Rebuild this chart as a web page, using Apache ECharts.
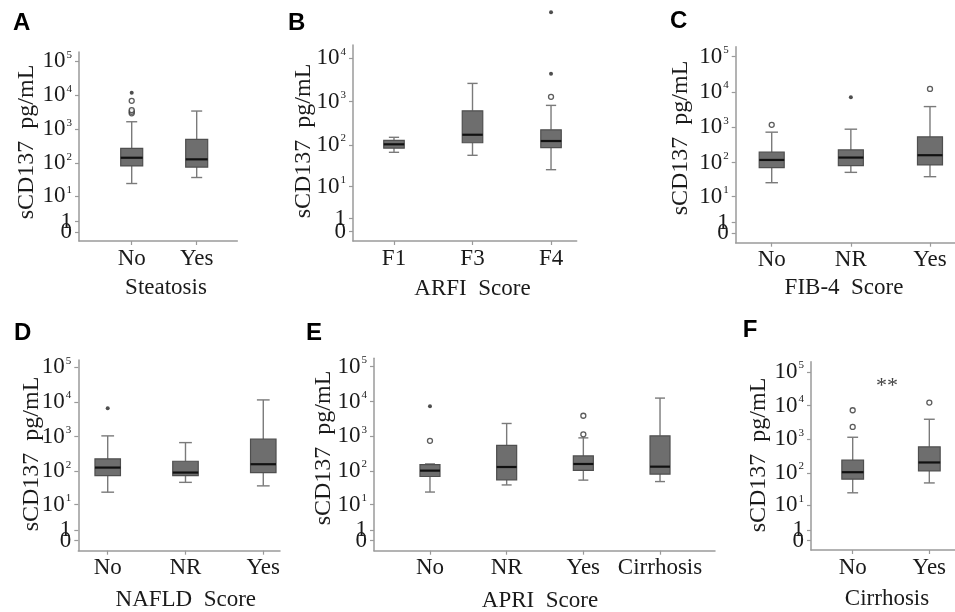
<!DOCTYPE html>
<html><head><meta charset="utf-8">
<script src="https://cdn.jsdelivr.net/npm/echarts@6/dist/echarts.min.js"></script>
<style>html,body{margin:0;padding:0;background:#fff}#c{width:955px;height:612px}</style>
</head><body><div id="c"></div>
<script>
// ---------- data (values in pg/mL); box = [min, Q1, median, Q3, max] ----------
const ticksFull = [0, 1, 10, 100, 1000, 10000, 100000];
const ticksB = [0, 1, 10, 100, 1000, 10000];

const catsA = ['No', 'Yes'];
const boxA = [[25, 84, 147, 278, 1680], [38, 78, 132, 512, 3460]];
const outA = [[0, 2960], [0, 3300], [0, 3700], [0, 6900]];
const extA = [[0, 11900]];

const catsB = ['F1', 'F3', 'F4'];
const boxB = [[67, 84, 103, 127, 150], [57, 112, 172, 617, 2650], [26, 86, 123, 224, 823]];
const outB = [[2, 1300]];
const extB = [[2, 4410], [2, 117000]];

const catsC = ['No', 'NR', 'Yes'];
const boxC = [[26, 71, 118, 196, 726], [52, 81, 138, 228, 882], [39, 85, 161, 534, 3850]];
const outC = [[0, 1170], [2, 12200]];
const extC = [[1, 7120]];

const catsD = ['No', 'NR', 'Yes'];
const boxD = [[24, 74, 127, 227, 1050], [47, 74, 91, 194, 671], [37, 91, 159, 841, 11450]];
const outD = [];
const extD = [[0, 6600]];

const catsE = ['No', 'NR', 'Yes', 'Cirrhosis'];
const boxE = [[24, 69, 102, 152, 160], [39, 55, 130, 550, 2330], [54, 104, 159, 271, 899], [49, 81, 133, 1027, 12500]];
const outE = [[0, 737], [2, 1140], [2, 3880]];
const extE = [[0, 7340]];

const catsF = ['No', 'Yes'];
const boxF = [[25, 65, 105, 240, 1150], [50, 115, 205, 595, 3930]];
const outF = [[0, 2330], [0, 7260], [1, 12270]];
const extF = [];

const yTitle = 'sCD137  pg/mL';

// ---------- layout ----------
const panels = [
  {L:'A', cats:catsA, box:boxA, out:outA, ext:extA, ticks:ticksFull, xName:'Steatosis',
   g:[79,52,158.3,189], x:[-0.811,1.625], y:[-0.27,5.27], bw:22,
   letter:[13,23.5], yName:[27,142], xN:[166,288]},
  {L:'B', cats:catsB, box:boxB, out:outB, ext:extB, ticks:ticksB, xName:'ARFI  Score',
   g:[353,45,223.7,196], x:[-0.522,2.327], y:[-0.215,4.31], bw:20.5,
   letter:[288,23.5], yName:[304,141], xN:[472.5,288.5]},
  {L:'C', cats:catsC, box:boxC, out:outC, ext:extC, ticks:ticksFull, xName:'FIB-4  Score',
   g:[735.7,46.7,219.3,196], x:[-0.455,2.316], y:[-0.266,5.28], bw:25,
   letter:[670,21.7], yName:[681,138], xN:[844,288]},
  {L:'D', cats:catsD, box:boxD, out:outD, ext:extD, ticks:ticksFull, xName:'NAFLD  Score',
   g:[78.3,360,201.7,190.7], x:[-0.378,2.215], y:[-0.29,5.21], bw:25.5,
   letter:[14,333], yName:[32,454], xN:[185.8,600]},
  {L:'E', cats:catsE, box:boxE, out:outE, ext:extE, ticks:ticksFull, xName:'APRI  Score',
   g:[374,358.3,341,192.4], x:[-0.73,3.717], y:[-0.287,5.24], bw:20,
   letter:[306,333], yName:[324,448], xN:[540,600.5]},
  {L:'F', cats:catsF, box:boxF, out:outF, ext:extF, ticks:ticksFull, xName:'Cirrhosis',
   g:[811,361.7,144,188.3], x:[-0.544,1.335], y:[-0.28,5.3], bw:21.7,
   letter:[742.7,330], yName:[759,455], xN:[887,599]}
];

const tf = v => Math.log10(v + 1);   // pseudo-log scale used by the figure
const SERIF = 'Liberation Serif';
const AX = '#9a9a9a';

const option = {
  animation: false,
  backgroundColor: '#fff',
  grid: [], xAxis: [], yAxis: [], series: [], graphic: []
};

function tickText(t) {
  if (t < 10) return '{n|' + t + '}';
  return '{n|10}{s|' + Math.round(Math.log10(t)) + '}';
}
function yAxisDef(i, p, tickList, showLine) {
  const vals = tickList.map(tf);
  return {
    type:'value', gridIndex:i, min:p.y[0], max:p.y[1], position:'left',
    axisLine:{show:showLine, onZero:false, lineStyle:{color:AX, width:1.5}},
    axisTick:{show:true, customValues:vals, length:4, lineStyle:{color:AX, width:1.2}},
    axisLabel:{customValues:vals, margin:7, color:'#1a1a1a', hideOverlap:false,
      showMinLabel:true, showMaxLabel:true,
      formatter: v => {
        let k = 0, best = 1e9;
        vals.forEach((yv, j) => { if (Math.abs(yv - v) < best) { best = Math.abs(yv - v); k = j; } });
        return tickText(tickList[k]);
      },
      rich:{
        n:{fontFamily:SERIF, fontSize:23, color:'#1a1a1a', lineHeight:24},
        s:{fontFamily:SERIF, fontSize:11, color:'#1a1a1a', verticalAlign:'top', lineHeight:12, padding:[0,0,0,1]}
      }
    },
    splitLine:{show:false}
  };
}

panels.forEach((p, i) => {
  option.grid.push({left:p.g[0], top:p.g[1], width:p.g[2], height:p.g[3],
    containLabel:false, outerBoundsMode:'none'});
  const xVals = p.cats.map((c, k) => k);
  option.xAxis.push({
    type:'value', gridIndex:i, min:p.x[0], max:p.x[1], position:'bottom',
    axisLine:{show:true, onZero:false, lineStyle:{color:AX, width:1.5}},
    axisTick:{show:true, customValues:xVals, length:4, lineStyle:{color:AX, width:1.2}},
    axisLabel:{customValues:xVals, margin:6, color:'#1a1a1a', fontFamily:SERIF, fontSize:23,
      hideOverlap:false, showMinLabel:true, showMaxLabel:true,
      formatter: v => p.cats[Math.round(v)]},
    splitLine:{show:false}
  });
  // main y axis (all ticks except "1") + helper axis carrying the "1" tick,
  // so the two closely spaced labels are not dropped as overlapping
  option.yAxis.push(yAxisDef(i, p, p.ticks.filter(t => t !== 1), true));
  option.yAxis.push(yAxisDef(i, p, p.ticks.filter(t => t === 1), false));
  const yi = 2 * i;
  // boxes
  const bw = p.bw;
  option.series.push({
    type:'custom', xAxisIndex:i, yAxisIndex:yi, clip:false,
    data: p.box.map((b, k) => [k, tf(b[0]), tf(b[1]), tf(b[2]), tf(b[3]), tf(b[4])]),
    renderItem: (params, api) => {
      const x = api.value(0);
      const pMin = api.coord([x, api.value(1)]);
      const pQ1 = api.coord([x, api.value(2)]);
      const pMed = api.coord([x, api.value(3)]);
      const pQ3 = api.coord([x, api.value(4)]);
      const pMax = api.coord([x, api.value(5)]);
      const cx = pMin[0], h = bw / 2, c = bw / 4;
      const ws = {stroke:'#7a7a7a', lineWidth:1.4};
      return {type:'group', children:[
        {type:'line', shape:{x1:cx, y1:pMax[1], x2:cx, y2:pQ3[1]}, style:ws},
        {type:'line', shape:{x1:cx, y1:pQ1[1], x2:cx, y2:pMin[1]}, style:ws},
        {type:'line', shape:{x1:cx - c, y1:pMax[1], x2:cx + c, y2:pMax[1]}, style:ws},
        {type:'line', shape:{x1:cx - c, y1:pMin[1], x2:cx + c, y2:pMin[1]}, style:ws},
        {type:'rect', shape:{x:cx - h, y:pQ3[1], width:bw, height:pQ1[1] - pQ3[1]},
          style:{fill:'#6e6e6e', stroke:'#4f4f4f', lineWidth:1.2}},
        {type:'line', shape:{x1:cx - h, y1:pMed[1], x2:cx + h, y2:pMed[1]}, style:{stroke:'#111', lineWidth:2.2}}
      ]};
    }
  });
  // outliers (open circles) and extremes (asterisks)
  option.series.push({
    type:'scatter', xAxisIndex:i, yAxisIndex:yi, clip:false, symbol:'circle', symbolSize:5,
    itemStyle:{color:'#fff', borderColor:'#333', borderWidth:1.3},
    data: p.out.map(o => [o[0], tf(o[1])])
  });
  option.series.push({
    type:'scatter', xAxisIndex:i, yAxisIndex:yi, clip:false, symbol:'circle', symbolSize:4,
    itemStyle:{color:'#222'},
    data: p.ext.map(o => [o[0], tf(o[1])])
  });
  // texts
  option.graphic.push({type:'text', x:p.letter[0], y:p.letter[1],
    style:{text:p.L, fontFamily:'Liberation Sans', fontWeight:'bold', fontSize:24, fill:'#000',
      textAlign:'left', textVerticalAlign:'middle'}});
  option.graphic.push({type:'text', x:p.yName[0], y:p.yName[1], rotation:Math.PI / 2,
    style:{text:yTitle, fontFamily:SERIF, fontSize:24, fill:'#1a1a1a', textAlign:'center', textVerticalAlign:'middle'}});
  option.graphic.push({type:'text', x:p.xN[0], y:p.xN[1],
    style:{text:p.xName, fontFamily:SERIF, fontSize:23, fill:'#1a1a1a', textAlign:'center', textVerticalAlign:'middle'}});
});
option.graphic.push({type:'text', x:887, y:386,
  style:{text:'**', fontFamily:SERIF, fontSize:22, fill:'#444', textAlign:'center', textVerticalAlign:'middle'}});

const chart = echarts.init(document.getElementById('c'), null, {renderer:'canvas'});
chart.setOption(option);
</script>
</body></html>
